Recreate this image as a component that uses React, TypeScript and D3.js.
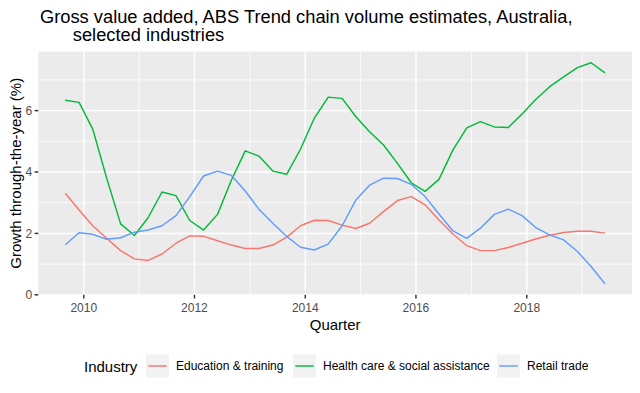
import * as d3 from 'd3';

// Quarterly observations (end month of each quarter)
const quarters = [
  '2009-09-01', '2009-12-01',
  '2010-03-01', '2010-06-01', '2010-09-01', '2010-12-01',
  '2011-03-01', '2011-06-01', '2011-09-01', '2011-12-01',
  '2012-03-01', '2012-06-01', '2012-09-01', '2012-12-01',
  '2013-03-01', '2013-06-01', '2013-09-01', '2013-12-01',
  '2014-03-01', '2014-06-01', '2014-09-01', '2014-12-01',
  '2015-03-01', '2015-06-01', '2015-09-01', '2015-12-01',
  '2016-03-01', '2016-06-01', '2016-09-01', '2016-12-01',
  '2017-03-01', '2017-06-01', '2017-09-01', '2017-12-01',
  '2018-03-01', '2018-06-01', '2018-09-01', '2018-12-01',
  '2019-03-01', '2019-06-01'
];

const education = [
  3.31, 2.76, 2.25, 1.84, 1.44, 1.17, 1.12, 1.33, 1.68, 1.92,
  1.91, 1.76, 1.62, 1.51, 1.51, 1.62, 1.88, 2.25, 2.43, 2.42,
  2.27, 2.16, 2.33, 2.71, 3.07, 3.2, 2.93, 2.44, 1.98, 1.6,
  1.44, 1.44, 1.54, 1.68, 1.82, 1.94, 2.03, 2.07, 2.07, 2.01
];

const health = [
  6.34, 6.27, 5.4, 3.8, 2.31, 1.93, 2.51, 3.35, 3.23, 2.42,
  2.11, 2.62, 3.74, 4.69, 4.52, 4.03, 3.93, 4.75, 5.75, 6.44,
  6.4, 5.8, 5.31, 4.88, 4.28, 3.65, 3.37, 3.76, 4.72, 5.44,
  5.64, 5.47, 5.45, 5.89, 6.36, 6.78, 7.1, 7.4, 7.56, 7.23
];

const retail = [
  1.63, 2.02, 1.97, 1.81, 1.86, 2.04, 2.11, 2.25, 2.58, 3.2,
  3.87, 4.03, 3.89, 3.38, 2.79, 2.33, 1.9, 1.55, 1.46, 1.65,
  2.25, 3.09, 3.57, 3.8, 3.79, 3.6, 3.2, 2.63, 2.08, 1.84,
  2.17, 2.62, 2.79, 2.58, 2.19, 1.95, 1.79, 1.41, 0.92, 0.36
];

const industries = ['Education & training', 'Health care & social assistance', 'Retail trade'];
const seriesValues = [education, health, retail];
const colours = ['#F8766D', '#00BA38', '#619CFF'];

const yBreaks = [0, 2, 4, 6];
const yMinor = [1, 3, 5, 7];
const xBreakYears = [2010, 2012, 2014, 2016, 2018];
const xMinorYears = [2011, 2013, 2015, 2017, 2019];

const W = 640;
const H = 393;
const panel = { left: 38.3, right: 632, top: 51.7, bottom: 294.8 };
const font = 'Liberation Sans, Arial, Helvetica, sans-serif';

function expand(lo: number, hi: number) {
  const pad = (hi - lo) * 0.05;
  return [lo - pad, hi + pad];
}

export default function App() {
  const dates = quarters.map(q => new Date(q + 'T00:00:00Z'));
  const [x0, x1] = expand(+dates[0], +dates[dates.length - 1]);
  const x = d3.scaleLinear().domain([x0, x1]).range([panel.left, panel.right]);

  const all = seriesValues.flat();
  const [y0, y1] = expand(d3.min(all) || 0, d3.max(all) || 0);
  const y = d3.scaleLinear().domain([y0, y1]).range([panel.bottom, panel.top]);

  const yearX = (yr: number) => x(Date.UTC(yr, 0, 1));

  const line = d3.line<number>()
    .x((_, i) => x(+dates[i]))
    .y(d => y(d));

  const legendKeys = [146, 293, 497];

  return (
    <svg width={W} height={H} style={{ position: 'absolute', left: 0, top: 0, background: '#fff' }} fontFamily={font}>
      <rect x={0} y={0} width={W} height={H} fill="#fff" />
      <text x={40} y={22.5} fontSize={18.3} fill="#000">
        Gross value added, ABS Trend chain volume estimates, Australia,
      </text>
      <text x={72.8} y={40.5} fontSize={18.3} fill="#000">
        selected industries
      </text>

      <clipPath id="panel-clip">
        <rect x={panel.left} y={panel.top} width={panel.right - panel.left} height={panel.bottom - panel.top} />
      </clipPath>
      <rect x={panel.left} y={panel.top} width={panel.right - panel.left} height={panel.bottom - panel.top} fill="#EBEBEB" />

      <g clipPath="url(#panel-clip)">
        {yMinor.map(v => (
          <line key={'ym' + v} x1={panel.left} x2={panel.right} y1={y(v)} y2={y(v)} stroke="#fff" strokeWidth={0.75} />
        ))}
        {xMinorYears.map(v => (
          <line key={'xm' + v} x1={yearX(v)} x2={yearX(v)} y1={panel.top} y2={panel.bottom} stroke="#fff" strokeWidth={0.75} />
        ))}
        {yBreaks.map(v => (
          <line key={'yb' + v} x1={panel.left} x2={panel.right} y1={y(v)} y2={y(v)} stroke="#fff" strokeWidth={1.45} />
        ))}
        {xBreakYears.map(v => (
          <line key={'xb' + v} x1={yearX(v)} x2={yearX(v)} y1={panel.top} y2={panel.bottom} stroke="#fff" strokeWidth={1.45} />
        ))}
        {seriesValues.map((vals, i) => (
          <path key={industries[i]} d={line(vals) || ''} fill="none" stroke={colours[i]} strokeWidth={1.45} strokeLinejoin="round" />
        ))}
      </g>

      {/* y axis */}
      {yBreaks.map(v => (
        <g key={'yt' + v}>
          <line x1={panel.left - 3.7} x2={panel.left} y1={y(v)} y2={y(v)} stroke="#333" strokeWidth={1.45} />
          <text x={panel.left - 6} y={y(v)} dy="0.35em" textAnchor="end" fontSize={12} fill="#4D4D4D">{v}</text>
        </g>
      ))}
      {/* x axis */}
      {xBreakYears.map(v => (
        <g key={'xt' + v}>
          <line x1={yearX(v)} x2={yearX(v)} y1={panel.bottom} y2={panel.bottom + 3.7} stroke="#333" strokeWidth={1.45} />
          <text x={yearX(v)} y={311.7} textAnchor="middle" fontSize={12} fill="#4D4D4D">{v}</text>
        </g>
      ))}

      <text x={(panel.left + panel.right) / 2} y={329.5} textAnchor="middle" fontSize={15} fill="#000">Quarter</text>
      <text transform={`translate(21,${(panel.top + panel.bottom) / 2}) rotate(-90)`} textAnchor="middle" fontSize={15} fill="#000">
        Growth through-the-year (%)
      </text>

      {/* legend */}
      <text x={84} y={372.2} fontSize={15} fill="#000">Industry</text>
      {industries.map((name, i) => (
        <g key={'lg' + name} transform={`translate(${legendKeys[i]},354.5)`}>
          <rect x={0} y={0} width={23} height={23} fill="#F2F2F2" />
          <line x1={2.3} x2={20.7} y1={11.5} y2={11.5} stroke={colours[i]} strokeWidth={1.45} />
          <text x={30} y={15.8} fontSize={12} fill="#000">{name}</text>
        </g>
      ))}
    </svg>
  );
}
